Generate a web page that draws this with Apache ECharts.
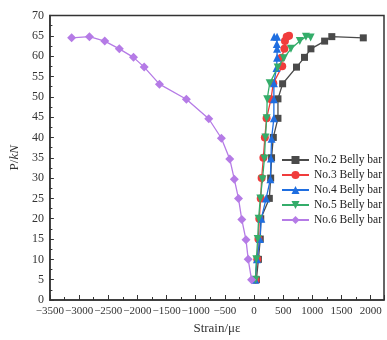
<!DOCTYPE html>
<html><head><meta charset="utf-8">
<script src="https://cdn.jsdelivr.net/npm/echarts@6/dist/echarts.min.js"></script>
<style>html,body{margin:0;padding:0;background:#fff}#c{width:387px;height:340px}</style>
</head><body><div id="c"></div>
<script>
// ---- data ----
const seriesNames = ['No.2 Belly bar', 'No.3 Belly bar', 'No.4 Belly bar', 'No.5 Belly bar', 'No.6 Belly bar'];
const strainNo2 = [40, 75, 107, 115, 262, 285, 300, 330, 410, 410, 490, 728, 865, 975, 1210, 1333, 1873];
const loadNo2   = [5, 10, 15, 20, 25, 30, 35, 40, 44.7, 49.5, 53.2, 57.3, 59.7, 61.8, 63.7, 64.8, 64.5];
const strainNo3 = [25, 55, 75, 90, 115, 130, 160, 185, 215, 290, 330, 483, 470, 520, 530, 560, 600];
const loadNo3   = [5, 10, 15, 20, 25, 30, 35, 40, 44.7, 49.4, 53.3, 57.5, 59.6, 61.8, 63.7, 64.8, 65];
const strainNo4 = [20, 50, 100, 125, 207, 280, 290, 300, 340, 340, 340, 385, 395, 395, 390, 395, 345];
const loadNo4   = [5, 10, 15, 20, 25, 29.7, 34.8, 39.7, 44.7, 49.4, 53.3, 57.1, 59.6, 61.8, 63, 64.8, 64.8];
const strainNo5 = [25, 40, 62, 78, 107, 145, 178, 195, 217, 225, 268, 405, 510, 633, 785, 890, 970];
const loadNo5   = [5, 10, 15, 20, 25, 29.7, 34.8, 40, 44.7, 49.4, 53.3, 57.2, 59.5, 61.8, 63.7, 64.8, 64.6];
const strainNo6 = [-43, -100, -138, -210, -267, -338, -417, -560, -777, -1160, -1622, -1883, -2067, -2310, -2560, -2822, -3127];
const loadNo6   = [5, 10, 14.8, 19.8, 25, 29.7, 34.7, 39.8, 44.6, 49.4, 53.1, 57.3, 59.7, 61.8, 63.7, 64.8, 64.5];
const xTicks = [-3500, -3000, -2500, -2000, -1500, -1000, -500, 0, 500, 1000, 1500, 2000];
const yTicks = [0, 5, 10, 15, 20, 25, 30, 35, 40, 45, 50, 55, 60, 65, 70];

const strains = [strainNo2, strainNo3, strainNo4, strainNo5, strainNo6];
const loads = [loadNo2, loadNo3, loadNo4, loadNo5, loadNo6];
const colors = ['#4a4a4a', '#f03c3c', '#1f6ee0', '#34ad6a', '#b57be6'];
const symbols = ['rect', 'circle', 'triangle', 'triangle', 'diamond'];
const rotates = [0, 0, 0, 180, 0];
const sizes = [7, 8, 8, 8, 9];

const font = "'Liberation Serif', 'DejaVu Serif', serif";
const chart = echarts.init(document.getElementById('c'), null, {renderer: 'canvas'});
chart.setOption({
  animation: false,
  backgroundColor: '#fff',
  grid: {left: 45.3, top: 15.5, right: -2, bottom: 37.3, show: true, borderColor: '#333', borderWidth: 1.5, backgroundColor: 'transparent'},
  legend: {
    orient: 'vertical', left: 281, top: 154, padding: 0, itemWidth: 27, itemHeight: 10, itemGap: 3,
    textStyle: {fontFamily: font, fontSize: 11.5, color: '#222'},
    data: seriesNames
  },
  xAxis: {
    type: 'value', min: -3500, max: 2228, interval: 500,
    name: 'Strain/με', nameLocation: 'middle', nameGap: 22,
    nameTextStyle: {fontFamily: font, fontSize: 13, color: '#333'},
    axisLine: {show: true, onZero: false, lineStyle: {color: '#333', width: 1.5}},
    axisTick: {show: true, inside: true, length: 5, lineStyle: {color: '#333'}},
    minorTick: {show: true, splitNumber: 2, length: 3, lineStyle: {color: '#333'}},
    splitLine: {show: false},
    axisLabel: {fontFamily: font, fontSize: 11, color: '#333', margin: 6, interval: 0,
      hideOverlap: false,
      formatter: v => xTicks.includes(v) ? String(v).replace('-', '\u2212') : ''}
  },
  yAxis: {
    type: 'value', min: 0, max: 70, interval: 5,
    name: '{a|P/}{b|kN}', nameLocation: 'middle', nameGap: 27,
    nameTextStyle: {rich: {a: {fontFamily: font, fontSize: 13, color: '#333'}, b: {fontFamily: font, fontSize: 13, fontStyle: 'italic', color: '#333'}}},
    axisLine: {show: true, onZero: false, lineStyle: {color: '#333', width: 1.5}},
    axisTick: {show: true, inside: true, length: 4, lineStyle: {color: '#333'}},
    minorTick: {show: true, splitNumber: 2, length: 2.5, lineStyle: {color: '#333'}},
    splitLine: {show: false},
    axisLabel: {fontFamily: font, fontSize: 12, color: '#333', margin: 6, interval: 0,
      formatter: v => yTicks.includes(v) ? String(v) : ''}
  },
  series: seriesNames.map((n, i) => ({
    name: n, type: 'line',
    data: strains[i].map((s, k) => [s, loads[i][k]]),
    symbol: symbols[i], symbolRotate: rotates[i], symbolSize: sizes[i],
    showAllSymbol: true,
    lineStyle: {color: colors[i], width: 1.3},
    itemStyle: {color: colors[i]},
    z: 2 + i
  }))
});
</script></body></html>
